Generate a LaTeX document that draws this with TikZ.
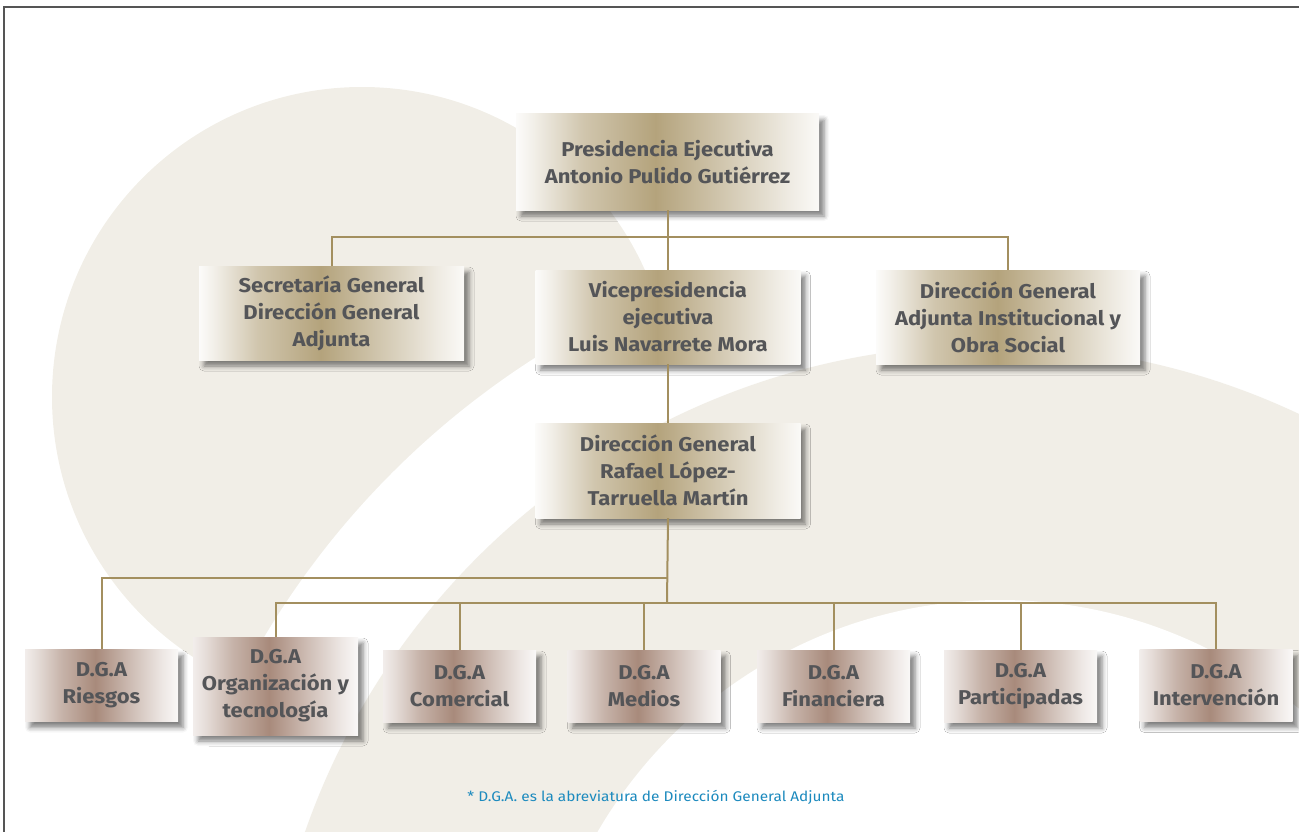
\documentclass[tikz,border=0pt]{standalone}
\usepackage{fontspec}
\setmainfont{Fira Sans}[FakeStretch=1.1]
\usetikzlibrary{shadows.blur}

\definecolor{bgbeige}{RGB}{241,238,231}
\definecolor{goldmid}{RGB}{180,163,124}
\definecolor{rosemid}{RGB}{168,138,123}
\definecolor{linegold}{RGB}{163,143,95}
\definecolor{textgray}{RGB}{84,85,88}
\definecolor{noteblue}{RGB}{28,138,190}
\definecolor{framegray}{RGB}{85,85,85}

\pgfdeclarehorizontalshading{goldbox}{100bp}{color(0bp)=(white); color(25bp)=(goldmid!4);
  color(28bp)=(goldmid!18); color(36bp)=(goldmid!62); color(48bp)=(goldmid);
  color(60bp)=(goldmid!58); color(70bp)=(goldmid!22); color(75bp)=(goldmid!6); color(100bp)=(white)}
\pgfdeclarehorizontalshading{rosebox}{100bp}{color(0bp)=(white); color(25bp)=(rosemid!15);
  color(29bp)=(rosemid!30); color(37bp)=(rosemid!65); color(48bp)=(rosemid);
  color(60bp)=(rosemid!55); color(70bp)=(rosemid!20); color(75bp)=(rosemid!6); color(100bp)=(white)}

\begin{document}
\begin{tikzpicture}[x=1pt,y=-1pt,
    box/.style={shade, shading=goldbox, inner sep=0pt, align=center, text=textgray,
      font=\fontsize{20}{27}\selectfont\bfseries,
      blur shadow={shadow xshift=5pt, shadow yshift=-6pt, shadow blur radius=5pt, shadow opacity=50}},
    dga/.style={box, shading=rosebox, minimum width=153, minimum height=72},
    link/.style={draw=linegold, line width=2pt}]
    \useasboundingbox (0,0) rectangle (1299,832);

    %Background
    \begin{scope}
      \clip (0,0) rectangle (1299,832);
      \fill[bgbeige] (362,397) circle (310);
      \fill[white] (990,1070) circle (845);
      \fill[bgbeige] (990,1070) circle (725);
      \fill[white] (1000,1065) circle (465);
    \end{scope}
    \draw[framegray, line width=1.5] (4,832) -- (4,7) -- (1299,7);

    \node[box, minimum width=303, minimum height=96] (pres) at (667.5,162) {Presidencia Ejecutiva\\Antonio Pulido Gutiérrez};
    \node[box, minimum width=265, minimum height=94] (sec) at (331.5,313) {Secretaría General\\Dirección General\\Adjunta};
    \node[box, minimum width=265, minimum height=94] (vice) at (668,317) {Vicepresidencia\\ejecutiva\\Luis Navarrete Mora};
    \node[box, minimum width=264, minimum height=94] (inst) at (1008,317) {Dirección General\\Adjunta Institucional y\\Obra Social};
    \node[box, minimum width=265, minimum height=95] (dg) at (668,470.5) {Dirección General\\Rafael López-\\Tarruella Martín};

    \node[dga] (ries) at (101.5,685.5) {D.G.A\\Riesgos};
    \node[dga, minimum width=165, minimum height=98] (org) at (275.5,686) {D.G.A\\Organización y\\tecnología};
    \node[dga] (com) at (459.5,686) {D.G.A\\Comercial};
    \node[dga] (med) at (644,686) {D.G.A\\Medios};
    \node[dga] (fin) at (833.5,686) {D.G.A\\Financiera};
    \node[dga] (par) at (1020.5,686) {D.G.A\\Participadas};
    \node[dga] (int) at (1216,685.5) {D.G.A\\Intervención};

    %Lines
    \coordinate (top) at (667,237);
    \coordinate (upper) at (667,578);
    \coordinate (lower) at (667,603);
    \draw[link] (pres.south) -- (pres.south |- vice.north);
    \draw[link] (sec.north) |- (top) -| (inst.north);
    \draw[link] (vice.south) -- (dg.north);
    \draw[link] (dg.south) -- (lower);
    \draw[link] (ries.north) |- (upper);
    \draw[link] (org.north) |- (lower) -| (int.north);
    \foreach \b in {com,med,fin,par}
      \draw[link] (\b.north) -- (\b.north |- lower);

    \node[text=noteblue, font=\fontsize{14}{18}\selectfont] (note) at (656,797) {* D.G.A. es la abreviatura de Dirección General Adjunta};
\end{tikzpicture}
\end{document}
